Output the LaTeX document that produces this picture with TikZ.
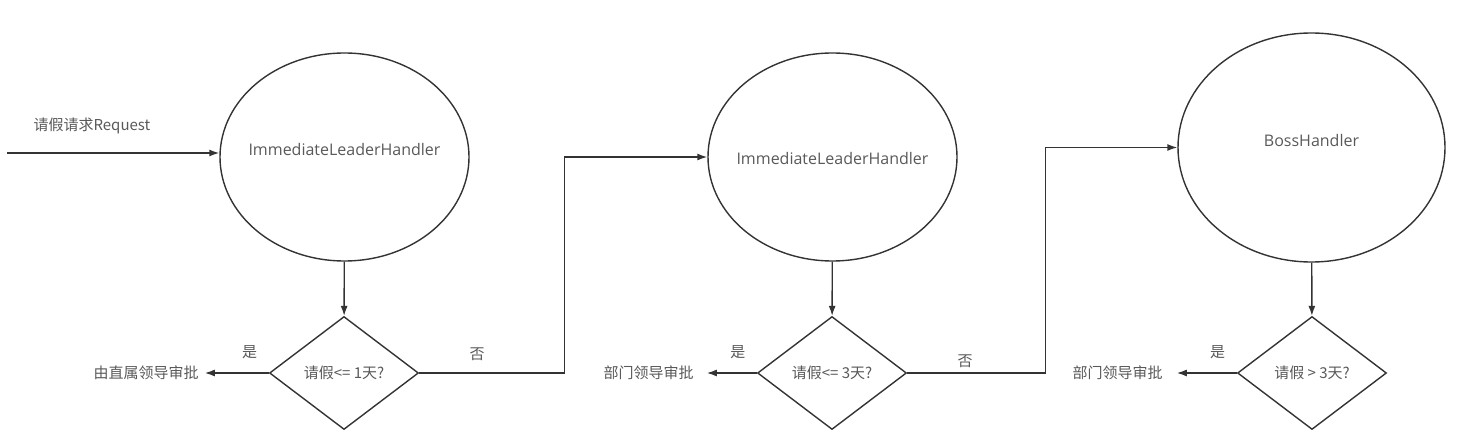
\documentclass[tikz,border=0pt]{standalone}
\usepackage{fontspec}
\setmainfont{Open Sans}
\newfontfamily\cjk{Noto Sans CJK SC}
\usetikzlibrary{positioning,shapes.geometric,arrows.meta}

\begin{document}
\begin{tikzpicture}[>={Latex[length=10pt,width=7pt]}, x=1pt, y=-1pt]

    %
    % Styles for handlers, checks and edges
    %
    \tikzstyle{handler} = [draw=black!80, ellipse, line width=1.4pt, inner sep=0pt];
    \tikzstyle{handlerName} = [inner sep=0pt, text=black!65, font={\fontsize{16}{19}\selectfont}];
    \tikzstyle{check} = [draw=black!80, diamond, line width=1.4pt, inner sep=0pt,
                         minimum width=149pt, minimum height=113pt,
                         text=black!65, font={\cjk\fontsize{15}{18}\selectfont}];
    \tikzstyle{result} = [inner ysep=0pt, inner xsep=6pt, text=black!65,
                          font={\cjk\fontsize{15}{18}\selectfont}];
    \tikzstyle{flow} = [black!80, line width=1.4pt, ->];
    \tikzstyle{flowLabel} = [inner sep=0pt, text=black!65, font={\cjk\fontsize{15}{18}\selectfont}];

    \useasboundingbox (0,0) rectangle (1459,446);

    %
    % Position handlers and checks
    %
    \node[handler, name=leader, minimum width=249pt, minimum height=208pt,
          label={[handlerName, yshift=7pt]center:ImmediateLeaderHandler}] at (344.5,157) {};
    \node[handler, name=manager, minimum width=249pt, minimum height=208pt,
          label={[handlerName, yshift=-2pt]center:ImmediateLeaderHandler}] at (832.5,157) {};
    \node[handler, name=boss, minimum width=267pt, minimum height=229pt,
          label={[handlerName, yshift=7pt]center:BossHandler}] at (1311.5,147.5) {};

    \node[check, name=checkOne] at (344,373) {请假<= 1天?};
    \node[check, name=checkThree] at (832,373) {请假<= 3天?};
    \node[check, name=checkMore] at (1312,373) {请假 > 3天?};

    \node[result, name=leaderOk, left=64pt of checkOne.west] {由直属领导审批};
    \node[result, name=managerOk, inner xsep=13pt, left=50pt of checkThree.west] {部门领导审批};
    \node[result, name=bossOk, inner xsep=14pt, left=60pt of checkMore.west] {部门领导审批};

    \coordinate (start) at (7,153);

    %
    % Connect handlers and checks via edges
    %
    \draw[flow] (start)
      -- node[flowLabel, pos=0.4, above=18pt]{请假请求Request}
      (start -| leader.west);

    \draw (leader) edge[flow] (checkOne);
    \draw (manager) edge[flow] (checkThree);
    \draw (boss) edge[flow] (checkMore);

    \draw (checkOne)
      edge[flow] node[flowLabel, pos=0.3, above=14pt]{是}
      (leaderOk);
    \draw (checkThree)
      edge[flow] node[flowLabel, pos=0.38, above=14pt]{是}
      (managerOk);
    \draw (checkMore)
      edge[flow] node[flowLabel, pos=0.32, above=14pt]{是}
      (bossOk);

    \draw[flow] (checkOne.east)
      -- node[flowLabel, pos=0.4, above=12pt]{否} ++(145,0)
      |- (manager.west);
    \draw[flow] (checkThree.east)
      -- node[flowLabel, pos=0.42, above=5pt]{否} ++(138,0)
      |- (boss.west);
\end{tikzpicture}
\end{document}
